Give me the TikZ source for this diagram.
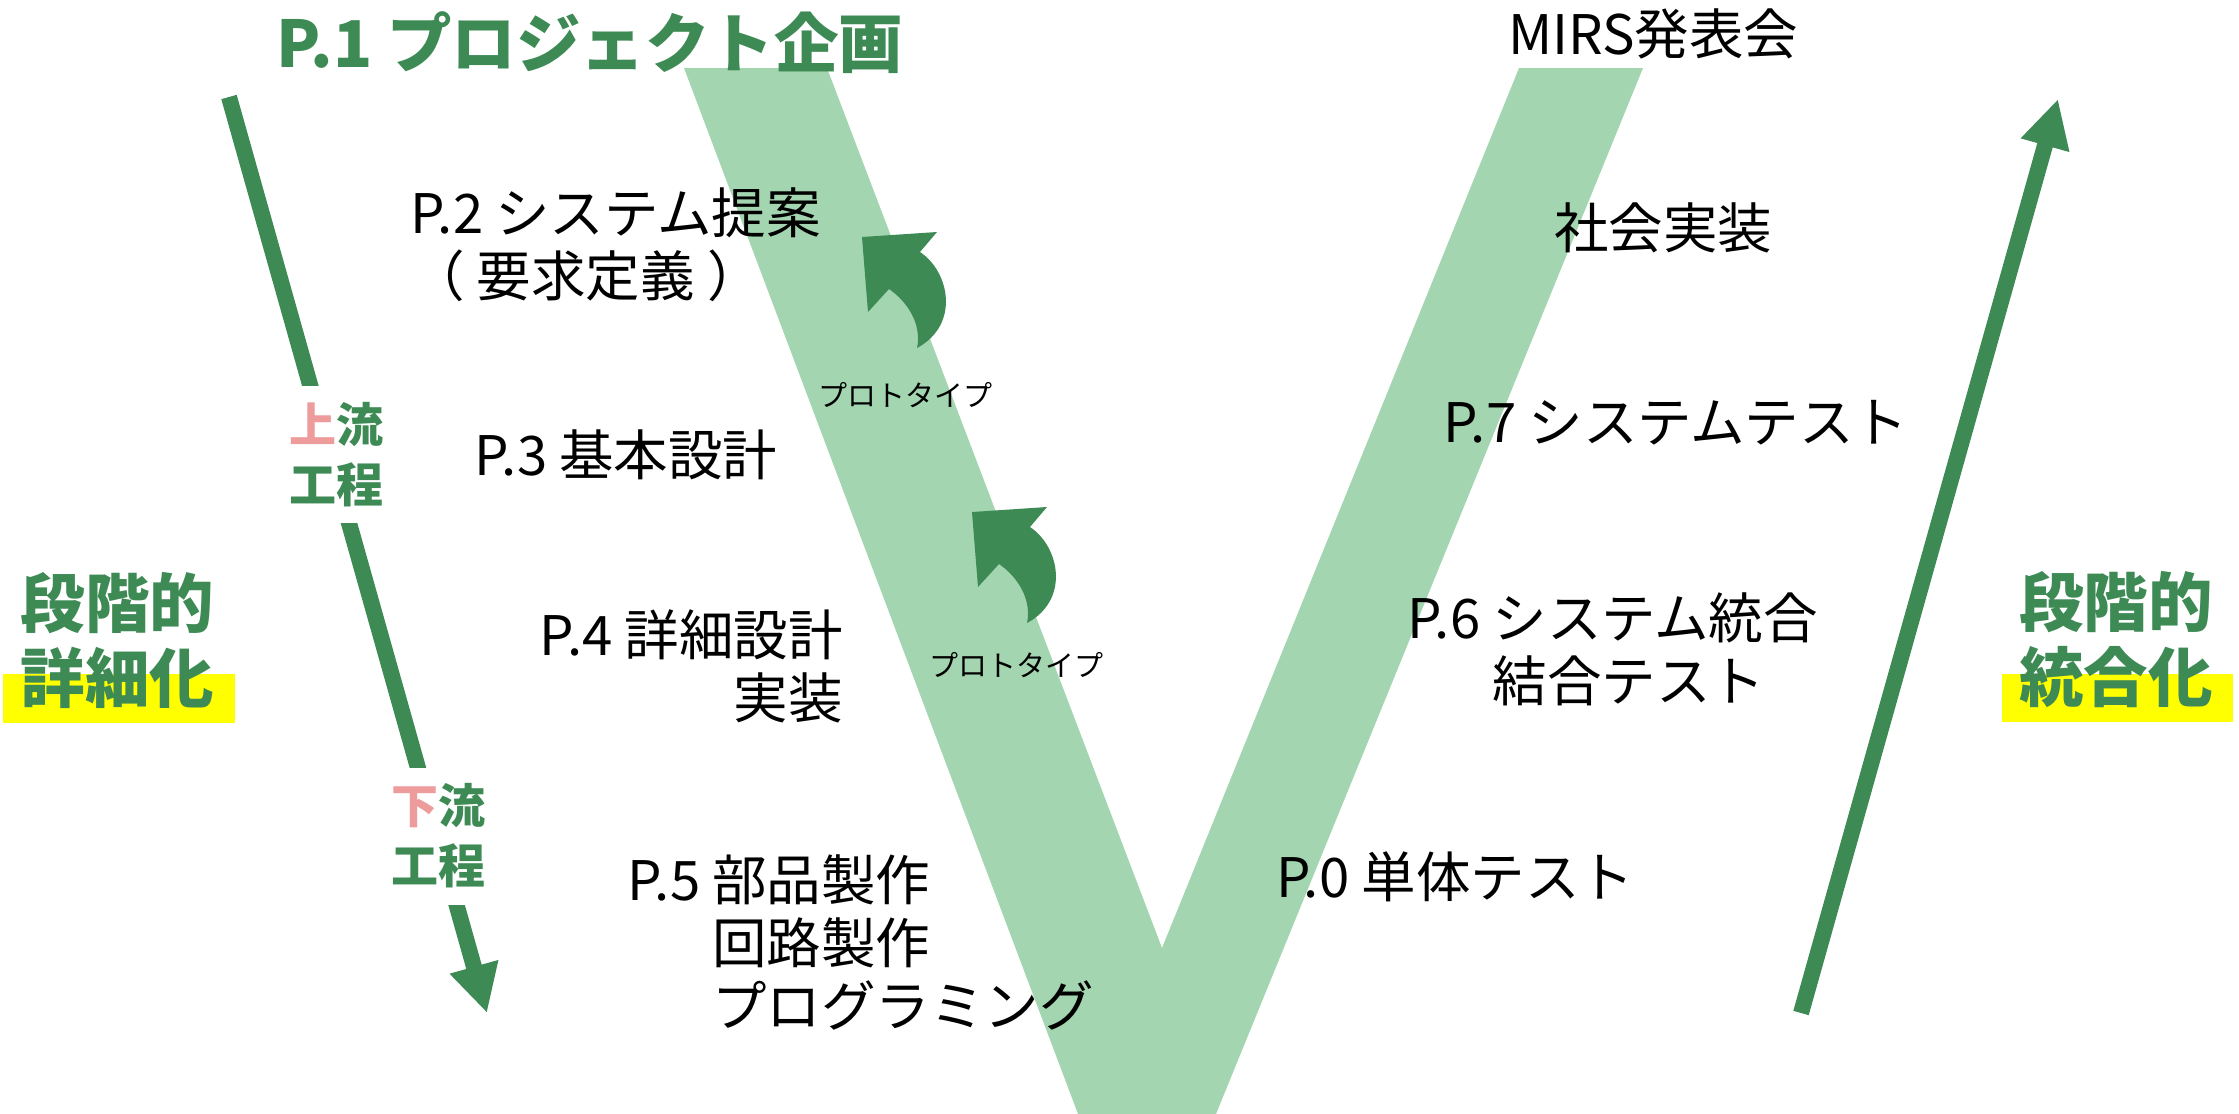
\documentclass[tikz,border=0pt]{standalone}
\usepackage{fontspec}
\setmainfont{Noto Sans CJK JP}
\usetikzlibrary{arrows.meta}
\definecolor{vlight}{HTML}{A3D5B0}
\definecolor{vgreen}{HTML}{3D8A55}
\definecolor{kpink}{HTML}{EE9B9B}
\definecolor{hlyellow}{HTML}{FFFF00}

\tikzset{
  stage/.style={font=\fontsize{54.5}{63}\selectfont, inner sep=0pt},
  proto/.style={font=\fontsize{29}{35}\selectfont, inner sep=0pt},
  heading/.style={font=\bfseries\fontsize{64.5}{74}\selectfont, text=vgreen, inner sep=0pt},
  phase/.style={font=\bfseries\fontsize{64.5}{75}\selectfont, text=vgreen, inner sep=0pt, align=center},
  flowlabel/.style={font=\bfseries\fontsize{47}{60}\selectfont, text=vgreen, fill=white,
    inner sep=0pt, minimum height=137pt, align=center},
  flow/.style={draw=vgreen, line width=16pt, -{Triangle[width=47pt,length=48pt]}},
  protoarrow/.pic={
    \fill [vgreen] (0,0) -- (75,-5) -- (58,15) .. controls (88,35) and (98,88) .. (55,111)
      .. controls (60,88) and (46,65) .. (27,52) -- (6,75) -- cycle;
  }
}

\begin{document}
\begin{tikzpicture}[x=1pt, y=-1pt]
  \useasboundingbox (0,0) rectangle (2239,1114);
  \fill [vlight] (684,68) -- (827,68) -- (1162,948) -- (1519,68) -- (1643,68)
    -- (1216,1114) -- (1078,1114) -- cycle;
  \pic at (862,237) {protoarrow};
  \pic at (972,512) {protoarrow};

  \coordinate (ltop) at (229,97);
  \coordinate (ltip) at (487,1013);
  \draw [flow] (ltop) -- (ltip);
  \node [flowlabel] (upstream) at (336.5,454.5) {\textcolor{kpink}{上}流\\工程};
  \node [flowlabel] (downstream) at (438,836) {\textcolor{kpink}{下}流\\工程};

  \coordinate (rfoot) at (1801,1013);
  \coordinate (rtip) at (2058,99);
  \draw [flow] (rfoot) -- (rtip);

  \fill [hlyellow] (3,674) rectangle (235,723);
  \node [phase] (refine) at (117.5,640) {段階的\\詳細化};
  \fill [hlyellow] (2002,674) rectangle (2233,722);
  \node [phase] (integrate) at (2116,640) {段階的\\統合化};

  \node [heading, anchor=west] (plan) at (276,43) {P.1 プロジェクト企画};
  \node [stage] (mirs) at (1653,34) {MIRS発表会};
  \node [stage, anchor=west, align=left] (propose) at (410,245) {P.2 システム提案\\（ 要求定義 ）};
  \node [stage, anchor=west] (basic) at (474,455) {P.3 基本設計};
  \node [stage, anchor=east, align=right] (detail) at (843,666) {P.4 詳細設計\\実装};
  \node [stage, anchor=west, align=left] (parts) at (627,942)
    {P.5 部品製作\\\phantom{P.5 }回路製作\\\phantom{P.5 }プログラミング};
  \node [stage] (social) at (1663,228) {社会実装};
  \node [stage, anchor=west] (systest) at (1443,423) {P.7 システムテスト};
  \node [stage, anchor=west, align=left] (integ) at (1407,649) {P.6 システム統合\\\phantom{P.6 }結合テスト};
  \node [stage, anchor=west] (unit) at (1276,877) {P.0 単体テスト};
  \node [proto] (proto1) at (905,395) {プロトタイプ};
  \node [proto] (proto2) at (1016,665) {プロトタイプ};
\end{tikzpicture}
\end{document}
